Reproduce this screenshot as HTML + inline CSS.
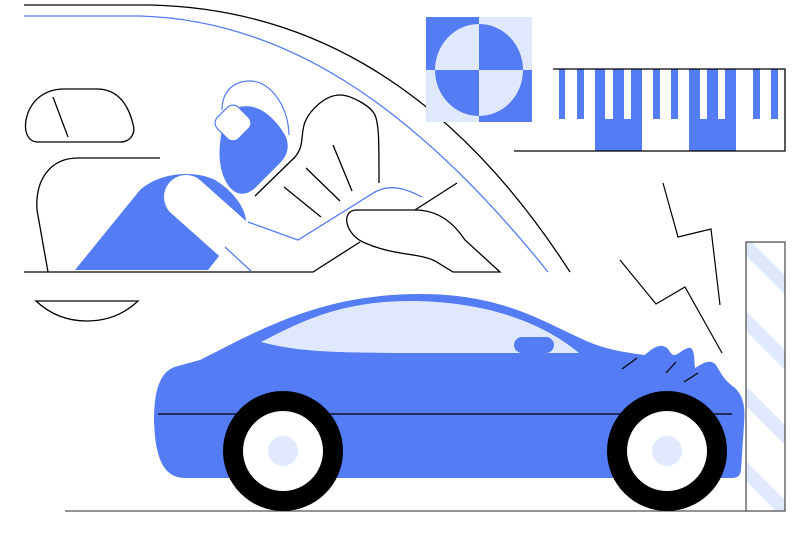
<!DOCTYPE html>
<html><head><meta charset="utf-8"><style>html,body{margin:0;padding:0;background:#fff;width:811px;height:541px;overflow:hidden}svg{display:block}</style></head>
<body>
<svg width="811" height="541" viewBox="0 0 811 541" xmlns="http://www.w3.org/2000/svg">
<defs>
<clipPath id="wc"><rect x="746" y="242" width="39" height="269"/></clipPath>
<clipPath id="cc"><ellipse cx="479" cy="70" rx="44" ry="46"/></clipPath>
</defs>
<g fill="none" stroke="#000" stroke-width="1.3">
<path d="M24 5 H150 C290 8 440 70 570 272"/>
</g>
<path d="M24 16 H140 C280 20 410 100 548 272" fill="none" stroke="#537CF5" stroke-width="1.3"/>
<!-- checker -->
<rect x="426" y="17" width="106" height="105" fill="#E0E8FD"/>
<rect x="426" y="17" width="53" height="53" fill="#537CF5"/>
<rect x="479" y="70" width="53" height="52" fill="#537CF5"/>
<g clip-path="url(#cc)">
<rect x="430" y="20" width="49" height="50" fill="#E0E8FD"/>
<rect x="479" y="20" width="50" height="50" fill="#537CF5"/>
<rect x="430" y="70" width="49" height="50" fill="#537CF5"/>
<rect x="479" y="70" width="50" height="50" fill="#E0E8FD"/>
</g>
<!-- barcode -->
<g fill="#537CF5">
<rect x="559" y="69" width="6" height="50"/><rect x="577" y="69" width="7" height="50"/>
<rect x="595" y="69" width="47" height="82"/>
<rect x="653" y="69" width="7" height="50"/><rect x="671" y="69" width="7" height="50"/>
<rect x="689" y="69" width="47" height="82"/>
<rect x="753" y="69" width="7" height="50"/><rect x="771" y="69" width="7" height="50"/>
</g>
<g fill="#fff"><rect x="605" y="69" width="8" height="50"/><rect x="624" y="69" width="7" height="50"/><rect x="700" y="69" width="7" height="50"/><rect x="718" y="69" width="7" height="50"/></g>
<path d="M553 69 H785 V151 H514" fill="none" stroke="#000" stroke-width="1.3"/>
<!-- lightning -->
<path d="M663 183 L678 237 L711 229 L720 305" fill="none" stroke="#000" stroke-width="1.2"/>
<path d="M620 260 L656 304 L685 287 L722 353" fill="none" stroke="#000" stroke-width="1.2"/>
<!-- wall -->
<g clip-path="url(#wc)" stroke="#E0E8FD" stroke-width="14">
<path d="M700 200 L820 320 M700 275 L820 395 M700 350 L820 470 M700 425 L820 545 M700 500 L820 620"/>
</g>
<rect x="746" y="242" width="39" height="269" fill="none" stroke="#555" stroke-width="1.3"/>
<line x1="65" y1="511" x2="746" y2="511" stroke="#555" stroke-width="1.3"/>
<!-- car -->
<path d="M200 360 C260 330 320 294 420 294 C500 294 540 320 580 338 C600 348 620 352 645 355 C655 345 665 342 670 352 C675 360 680 350 688 348 C695 346 694 360 695 368 C702 364 710 358 716 365 C722 375 724 380 735 388 C745 398 745 410 744 425 L741 470 C740 478 735 478 730 478 H185 C160 478 155 450 154 420 C154 390 160 370 178 366 Z" fill="#537CF5"/>
<path d="M261 342 C300 322 340 301 410 301 C480 301 540 320 579 353 H434 C330 353 300 352 261 342 Z" fill="#E0E8FD"/>
<rect x="514" y="337" width="40" height="16" rx="8" fill="#537CF5"/>
<g stroke="#000" stroke-width="1.2"><line x1="158" y1="414" x2="732" y2="414"/>
<line x1="622" y1="369" x2="637" y2="358"/><line x1="666" y1="373" x2="676" y2="362"/><line x1="684" y1="382" x2="698" y2="373"/></g>
<g>
<circle cx="283" cy="451" r="60" fill="#000"/><circle cx="283" cy="451" r="40" fill="#fff"/><circle cx="283" cy="451" r="15" fill="#E0E8FD"/>
<circle cx="667" cy="451" r="60" fill="#000"/><circle cx="667" cy="451" r="40" fill="#fff"/><circle cx="667" cy="451" r="15" fill="#E0E8FD"/>
</g>
<!-- interior -->
<g fill="none" stroke="#000" stroke-width="1.3">
<path d="M64 89 H97 C115 89 127 100 133 124 C136 134 130 142 120 142 H38 C28 142 24 132 26 120 C30 100 45 89 64 89 Z" fill="#fff"/>
<line x1="53" y1="97" x2="68" y2="137"/>
<path d="M160 158 H78 C50 158 35 180 37 210 L48 272"/>
<path d="M24 272 H313 L360 242"/>
<path d="M36 301 H138 C120 318 100 321 87 321 C70 321 52 316 36 301 Z"/>
</g>
<!-- torso -->
<path d="M75 270 L140 190 C160 172 195 170 215 180 C235 192 246 210 246 222 L208 270 Z" fill="#537CF5"/>
<line x1="186" y1="197" x2="232" y2="238" stroke="#fff" stroke-width="44" stroke-linecap="round"/>
<path d="M248 222 L298 240 L375 192 C390 184 405 188 422 197" fill="none" stroke="#537CF5" stroke-width="1.3"/>
<path d="M225 247 L251 271" fill="none" stroke="#537CF5" stroke-width="1.3"/>
<!-- head -->
<path d="M232 110 C250 100 270 110 285 135 C290 145 288 155 280 163 L255 188 C245 197 235 195 228 185 C218 170 218 150 222 130 Z" fill="#537CF5"/>
<path d="M222 110 C222 90 235 81 250 81 C270 81 288 105 289 135" fill="none" stroke="#537CF5" stroke-width="1.2"/>
<rect x="218" y="108" width="30" height="30" rx="8" transform="rotate(45 233 123)" fill="#fff" stroke="#537CF5" stroke-width="1.2"/>
<!-- airbag -->
<g fill="none" stroke="#000" stroke-width="1.3">
<path d="M255 196 L295 157 C305 145 300 135 305 122 C310 110 325 95 340 95 C350 95 370 105 375 115 C379 125 379 140 379 183"/>
<line x1="284" y1="187" x2="321" y2="217"/><line x1="306" y1="168" x2="340" y2="201"/><line x1="333" y1="145" x2="352" y2="191"/>
<path d="M357 210 H415 C440 210 455 225 465 240 L500 272 H453 L435 261 C420 253 395 256 365 243 C345 235 340 210 357 210 Z" fill="#fff"/>
<line x1="415" y1="210" x2="457" y2="183"/>
</g>
</svg>
</body></html>
